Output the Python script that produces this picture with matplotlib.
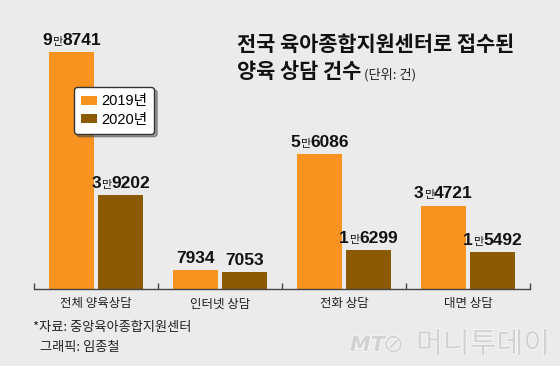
import matplotlib.pyplot as plt
import matplotlib.patheffects as pe
from matplotlib.patches import Patch, Rectangle
from matplotlib.offsetbox import TextArea, HPacker, AnnotationBbox

plt.rcParams['font.family'] = ['Noto Sans CJK KR', 'DejaVu Sans']

# 데이터
categories = ["전체 양육상담", "인터넷 상담", "전화 상담", "대면 상담"]
years = ["2019년", "2020년"]
v2019 = [98741, 7934, 56086, 34721]
v2020 = [39202, 7053, 16299, 15492]

C_ORANGE = "#f7931e"
C_BROWN = "#8b5a05"
BG = "#ebebeb"
NUM_FONT = ['Liberation Sans', 'Noto Sans CJK KR']

fig = plt.figure(figsize=(5.6, 3.69), dpi=100, facecolor=BG)
ax = fig.add_axes([34 / 560, 1 - 289 / 369, 496 / 560, 269 / 369])
ax.set_facecolor(BG)

x = list(range(len(categories)))
w = 0.363
off = 0.198
ax.bar([i - off for i in x], v2019, width=w, color=C_ORANGE, zorder=2)
ax.bar([i + off for i in x], v2020, width=w, color=C_BROWN, zorder=2)

ax.set_xlim(-0.5, 3.5)
ax.set_ylim(0, 112075)


def value_box(v):
    bold = dict(fontsize=12.5, fontweight='bold', family=NUM_FONT, color='#111111')
    small = dict(fontsize=8, family='Noto Sans CJK KR', color='#111111')
    if v >= 10000:
        parts = [TextArea(str(v // 10000), textprops=bold),
                 TextArea("만", textprops=small),
                 TextArea(f"{v % 10000:04d}", textprops=bold)]
    else:
        parts = [TextArea(str(v), textprops=bold)]
    return HPacker(children=parts, align="baseline", pad=0, sep=0)


for i in x:
    for dx, v in ((-off, v2019[i]), (off, v2020[i])):
        ab = AnnotationBbox(value_box(v), (i + dx, v), xybox=(0, 3),
                            xycoords='data', boxcoords='offset points',
                            box_alignment=(0.5, 0), frameon=False, pad=0)
        ax.add_artist(ab)

# 축
for s in ['top', 'right', 'left']:
    ax.spines[s].set_visible(False)
ax.spines['bottom'].set_color('#444444')
ax.spines['bottom'].set_linewidth(1.0)
ax.set_yticks([])
ax.set_xticks(x)
ax.set_xticklabels(categories, fontsize=9, color='#222222')
ax.tick_params(axis='x', which='major', length=0, pad=6)
ax.set_xticks([-0.5, 0.5, 1.5, 2.5, 3.5], minor=True)
ax.tick_params(axis='x', which='minor', direction='in', length=4, color='#444444', width=1.0)

# 범례
handles = [Patch(facecolor=C_ORANGE, label=years[0]),
           Patch(facecolor=C_BROWN, label=years[1])]
leg = fig.legend(handles=handles, loc='upper left',
                 bbox_to_anchor=(74 / 560, 1 - 87 / 369),
                 prop={'family': NUM_FONT, 'size': 10.5},
                 frameon=True, fancybox=True, shadow=True,
                 handlelength=1.05, handleheight=0.55, handletextpad=0.3,
                 labelspacing=0.3, borderpad=0.5, borderaxespad=0)
leg.get_frame().set_edgecolor('#333333')
leg.get_frame().set_facecolor('white')
leg.get_frame().set_linewidth(1.0)

# 제목
fig.text(237 / 560, 1 - 51 / 369, "전국 육아종합지원센터로 접수된",
         fontsize=15, fontweight='bold', color='#111111', va='baseline')
t2 = fig.text(237 / 560, 1 - 78 / 369, "양육 상담 건수",
              fontsize=15, fontweight='bold', color='#111111', va='baseline')
ax.annotate(" (단위: 건)", xy=(1, 0), xycoords=t2, fontsize=9.5,
            color='#222222', va='bottom', ha='left', annotation_clip=False)

# 출처
fig.text(33 / 560, 1 - 328 / 369, "*자료: 중앙육아종합지원센터",
         fontsize=9.5, color='#222222', va='center')
fig.text(40 / 560, 1 - 348 / 369, "그래픽: 임종철",
         fontsize=9.5, color='#222222', va='center')

# 워터마크
wm = [pe.withStroke(linewidth=1.2, foreground='#f7f7f7')]
fig.text(350 / 560, 1 - 345 / 369, "MT", fontsize=15, fontstyle='italic',
         fontweight='bold', family='DejaVu Sans', color='#d2d2d2', va='center',
         path_effects=wm)
fig.text(383 / 560, 1 - 345 / 369, "⊘", fontsize=18, family='DejaVu Sans',
         color='#d2d2d2', va='center', path_effects=wm)
fig.text(416 / 560, 1 - 345 / 369, "머니투데이", fontsize=21, color='#d2d2d2',
         va='center', path_effects=wm)

fig.patches.append(Rectangle((0, 0), 1, 3 / 369, transform=fig.transFigure,
                             facecolor='white', edgecolor='none'))

fig.savefig("out.png", dpi=100, facecolor=BG)
